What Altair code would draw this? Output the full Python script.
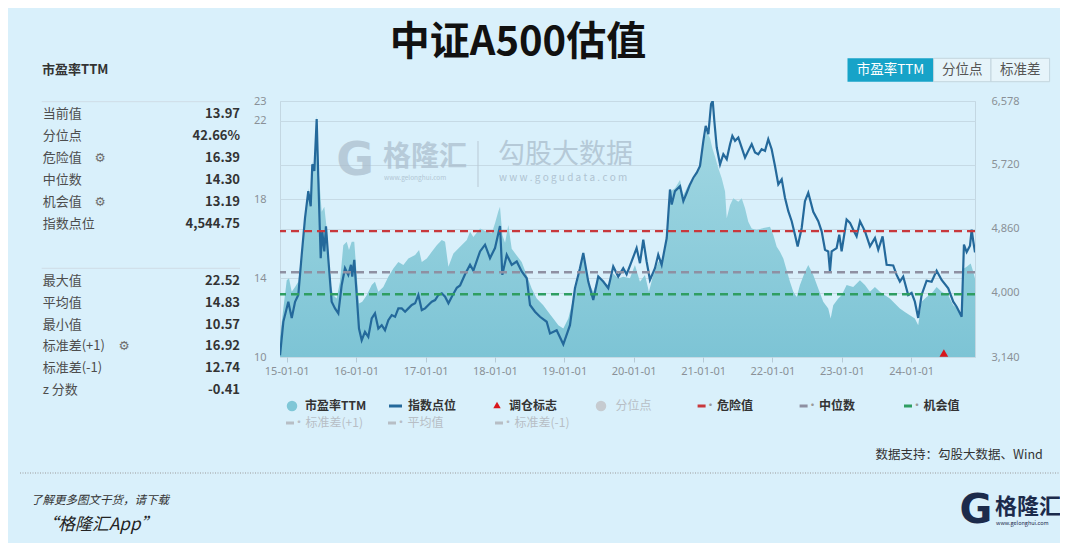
import altair as alt
import pandas as pd

# ---------------- data ----------------
# P/E TTM, decimal-year time stamps
pe_t = [2014.903, 2014.951, 2015.000, 2015.033, 2015.072, 2015.120, 2015.167, 2015.216, 2015.264, 2015.311,
        2015.346, 2015.369, 2015.398, 2015.432, 2015.465, 2015.504, 2015.542, 2015.576, 2015.599, 2015.624,
        2015.671, 2015.720, 2015.768, 2015.816, 2015.865, 2015.898, 2015.937, 2015.974, 2016.009, 2016.042,
        2016.089, 2016.153, 2016.225, 2016.272, 2016.320, 2016.392, 2016.464, 2016.536, 2016.608, 2016.680,
        2016.752, 2016.849, 2016.906, 2016.945, 2017.017, 2017.089, 2017.161, 2017.233, 2017.281, 2017.329,
        2017.401, 2017.497, 2017.594, 2017.641, 2017.689, 2017.785, 2017.882, 2017.954, 2018.001, 2018.049,
        2018.073, 2018.107, 2018.146, 2018.193, 2018.242, 2018.314, 2018.386, 2018.458, 2018.530, 2018.602,
        2018.697, 2018.769, 2018.841, 2018.914, 2018.986, 2019.058, 2019.130, 2019.202, 2019.274, 2019.346,
        2019.418, 2019.490, 2019.562, 2019.634, 2019.706, 2019.778, 2019.850, 2019.947, 2020.019, 2020.091,
        2020.163, 2020.220, 2020.282, 2020.354, 2020.427, 2020.476, 2020.523, 2020.595, 2020.667, 2020.715,
        2020.787, 2020.859, 2020.931, 2021.003, 2021.052, 2021.100, 2021.133, 2021.171, 2021.219, 2021.268,
        2021.316, 2021.340, 2021.388, 2021.435, 2021.507, 2021.556, 2021.604, 2021.651, 2021.700, 2021.772,
        2021.844, 2021.964, 2022.012, 2022.061, 2022.108, 2022.156, 2022.252, 2022.300, 2022.349, 2022.396,
        2022.468, 2022.516, 2022.588, 2022.660, 2022.732, 2022.804, 2022.839, 2022.876, 2022.948, 2022.997,
        2023.069, 2023.164, 2023.261, 2023.333, 2023.405, 2023.477, 2023.549, 2023.621, 2023.693, 2023.765,
        2023.837, 2023.909, 2023.981, 2024.053, 2024.101, 2024.150, 2024.222, 2024.294, 2024.366, 2024.438,
        2024.533, 2024.605, 2024.677, 2024.726, 2024.759, 2024.798, 2024.856, 2024.893, 2024.918]
pe_v = [11.0, 12.46, 13.9, 14.0, 13.31, 13.56, 13.82, 15.34, 17.2, 18.57,
        17.72, 19.92, 19.59, 22.3, 19.25, 17.38, 17.63, 16.53, 15.18, 13.82,
        13.14, 12.97, 13.82, 15.68, 15.85, 15.43, 15.85, 15.85, 14.16, 12.72,
        12.8, 13.14, 13.65, 13.82, 13.31, 13.56, 14.07, 14.5, 14.83, 14.67,
        15.0, 15.18, 15.43, 14.83, 15.0, 15.34, 15.68, 15.94, 15.85, 14.58,
        15.26, 15.6, 15.94, 16.36, 16.1, 16.53, 16.36, 16.28, 16.79, 17.4,
        17.63, 16.2, 15.8, 16.7, 15.5, 15.15, 14.83, 14.16, 13.48, 12.97,
        12.63, 12.29, 11.95, 11.61, 11.45, 11.95, 12.97, 13.99, 15.18, 13.82,
        13.31, 14.07, 13.82, 13.65, 14.24, 13.99, 14.07, 14.0, 14.67, 13.82,
        14.16, 13.31, 14.16, 14.83, 15.0, 16.19, 18.4, 18.57, 18.99, 18.23,
        18.74, 18.99, 19.5, 20.94, 21.45, 21.11, 20.6, 20.18, 19.59, 19.08,
        18.4, 17.04, 17.72, 18.06, 17.89, 18.06, 17.55, 16.87, 16.53, 16.45,
        16.53, 16.62, 16.19, 15.6, 15.34, 15.0, 13.82, 13.31, 13.05, 13.65,
        14.33, 14.67, 14.16, 13.48, 12.8, 12.46, 11.95, 12.63, 12.97, 13.14,
        13.65, 13.56, 13.9, 13.65, 13.31, 13.56, 13.31, 13.14, 12.97, 12.72,
        12.46, 12.29, 12.12, 11.95, 11.61, 12.8, 13.05, 13.22, 13.56, 13.31,
        13.14, 12.63, 12.46, 12.21, 14.5, 14.58, 14.75, 14.33, 13.97]

# index level
idx_t = [2014.903, 2014.951, 2015.023, 2015.072, 2015.120, 2015.167, 2015.216, 2015.264, 2015.311, 2015.346,
         2015.369, 2015.398, 2015.432, 2015.455, 2015.490, 2015.513, 2015.542, 2015.566, 2015.599, 2015.648,
         2015.696, 2015.744, 2015.793, 2015.840, 2015.888, 2015.927, 2015.945, 2015.974, 2016.009, 2016.042,
         2016.081, 2016.128, 2016.176, 2016.225, 2016.272, 2016.320, 2016.369, 2016.416, 2016.464, 2016.513,
         2016.561, 2016.608, 2016.657, 2016.705, 2016.752, 2016.801, 2016.849, 2016.896, 2016.945, 2016.993,
         2017.040, 2017.089, 2017.137, 2017.184, 2017.233, 2017.281, 2017.329, 2017.378, 2017.450, 2017.497,
         2017.569, 2017.641, 2017.689, 2017.785, 2017.857, 2017.929, 2018.001, 2018.073, 2018.107, 2018.170,
         2018.242, 2018.314, 2018.386, 2018.458, 2018.506, 2018.578, 2018.650, 2018.746, 2018.794, 2018.890,
         2018.986, 2019.082, 2019.154, 2019.226, 2019.274, 2019.346, 2019.418, 2019.490, 2019.562, 2019.634,
         2019.706, 2019.778, 2019.850, 2019.899, 2019.971, 2020.043, 2020.091, 2020.139, 2020.187, 2020.235,
         2020.307, 2020.354, 2020.403, 2020.476, 2020.523, 2020.548, 2020.595, 2020.667, 2020.715, 2020.764,
         2020.811, 2020.859, 2020.908, 2020.955, 2021.003, 2021.037, 2021.075, 2021.114, 2021.138, 2021.161,
         2021.196, 2021.244, 2021.291, 2021.340, 2021.388, 2021.421, 2021.460, 2021.507, 2021.556, 2021.604,
         2021.651, 2021.700, 2021.748, 2021.795, 2021.844, 2021.892, 2021.939, 2021.988, 2022.036, 2022.084,
         2022.133, 2022.180, 2022.228, 2022.277, 2022.324, 2022.363, 2022.421, 2022.468, 2022.516, 2022.588,
         2022.660, 2022.709, 2022.757, 2022.804, 2022.829, 2022.853, 2022.925, 2022.963, 2022.997, 2023.069,
         2023.118, 2023.175, 2023.213, 2023.262, 2023.334, 2023.406, 2023.478, 2023.525, 2023.588, 2023.646,
         2023.741, 2023.790, 2023.837, 2023.885, 2023.957, 2024.006, 2024.053, 2024.101, 2024.150, 2024.222,
         2024.294, 2024.366, 2024.438, 2024.533, 2024.605, 2024.654, 2024.726, 2024.759, 2024.798, 2024.846,
         2024.870, 2024.893, 2024.918]
idx_v = [3163, 3612, 3882, 3662, 3882, 3973, 4513, 5008, 5368, 5165,
         5728, 5638, 6335, 5548, 4468, 4828, 4558, 4895, 4468, 3882,
         3793, 3726, 4108, 4333, 4243, 4378, 4220, 4445, 3973, 3523,
         3365, 3478, 3410, 3658, 3726, 3523, 3568, 3500, 3635, 3703,
         3680, 3793, 3793, 3748, 3793, 3838, 3861, 3973, 3770, 3793,
         3838, 3882, 3905, 3973, 3996, 3950, 3861, 3950, 4070, 4100,
         4250, 4378, 4300, 4558, 4648, 4468, 4603, 4900, 4243, 4513,
         4378, 4423, 4288, 4198, 3838, 3748, 3680, 3613, 3456, 3500,
         3310, 3568, 4063, 4333, 4536, 4153, 3905, 4220, 4153, 4063,
         4355, 4220, 4333, 4250, 4423, 4603, 4400, 4715, 4423, 4175,
         4333, 4513, 4378, 4738, 5390, 5188, 5368, 5435, 5233, 5346,
         5458, 5548, 5616, 5705, 6043, 6245, 6133, 6538, 6578, 6313,
         5953, 5728, 5863, 5796, 5998, 6110, 6043, 6088, 5953, 5818,
         5908, 5998, 5886, 5863, 5931, 5908, 6065, 5931, 5705, 5458,
         5526, 5278, 5098, 4963, 4783, 4625, 4873, 5233, 5346, 5090,
         4963, 4828, 4580, 4558, 4288, 4558, 4603, 4783, 4560, 4986,
         4941, 4828, 4760, 4963, 4828, 4625, 4738, 4580, 4760, 4378,
         4370, 4243, 4153, 4220, 3973, 4000, 3883, 3665, 3973, 4165,
         4150, 4300, 4175, 4063, 3883, 3815, 3680, 4650, 4550, 4635,
         4850, 4693, 4545]

marker_t = [2024.47]                       # 调仓标志
ref_vals = [16.39, 14.30, 13.19]           # 危险值, 中位数, 机会值

left_ticks = [10, 14, 18, 22, 23]
right_ticks = [3140, 4000, 4860, 5720, 6578]
x_years = list(range(2015, 2025))

panel1_labels = ["当前值", "分位点", "危险值", "中位数", "机会值", "指数点位"]
panel1_values = ["13.97", "42.66%", "16.39", "14.30", "13.19", "4,544.75"]
panel2_labels = ["最大值", "平均值", "最小值", "标准差(+1)", "标准差(-1)", "z 分数"]
panel2_values = ["22.52", "14.83", "10.57", "16.92", "12.74", "-0.41"]

legend1 = ["市盈率TTM", "指数点位", "调仓标志", "分位点", "危险值", "中位数", "机会值"]
legend2 = ["标准差(+1)", "平均值", "标准差(-1)"]

assert len(pe_t) == len(pe_v) and len(idx_t) == len(idx_v)

# ---------------- styling ----------------
BG = "#d9f0fb"
FONT = "Noto Sans CJK SC"
LINE = "#24699b"
REF_COLORS = ["#c8383c", "#8e90a2", "#2f9e62"]
GRID = "#c6dae5"
AXLAB = "#8a9097"
INACTIVE = "#b7bec5"
WM = "#a9bccb"
NAVY = "#1c2b4b"

OX, OY = 280, 101          # page position of plot origin
W, H = 695, 256


def to_date(y):
    yi = int(y)
    a = pd.Timestamp(yi, 1, 1)
    b = pd.Timestamp(yi + 1, 1, 1)
    return a + (b - a) * (y - yi)


def dt(ts):
    return alt.DateTime(year=ts.year, month=ts.month, date=ts.day, hours=ts.hour)


xscale = alt.Scale(domain=[dt(to_date(pe_t[0])), dt(to_date(pe_t[-1]))])
yl = alt.Scale(domain=[10, 23], nice=False, zero=False)
yr = alt.Scale(domain=[3140, 6578], nice=False, zero=False)

pe_df = pd.DataFrame({"date": [to_date(t) for t in pe_t], "pe": pe_v})
idx_df = pd.DataFrame({"date": [to_date(t) for t in idx_t], "idx": idx_v})
mk_df = pd.DataFrame({"date": [to_date(t) for t in marker_t]})

PX = lambda v: v - OX
PY = lambda v: v - OY
XN = lambda f: alt.X(f, scale=None, axis=None)
YN = lambda f: alt.Y(f, scale=None, axis=None)


def texts(items, xs, ys, size, color, weight="normal", align="left", style="normal",
          font=FONT, opacity=1.0):
    df = pd.DataFrame({"t": items, "x": [PX(v) for v in xs], "y": [PY(v) for v in ys]})
    return alt.Chart(df).mark_text(align=align, baseline="middle", fontSize=size, color=color,
                                   fontWeight=weight, fontStyle=style, font=font,
                                   opacity=opacity).encode(x=XN("x:Q"), y=YN("y:Q"), text="t:N")


def rect(x1, x2, y1, y2, fill, stroke=None):
    df = pd.DataFrame({"x": [PX(x1)], "x2": [PX(x2)], "y": [PY(y1)], "y2": [PY(y2)]})
    kw = dict(fill=fill)
    if stroke:
        kw.update(stroke=stroke, strokeWidth=1)
    return alt.Chart(df).mark_rect(**kw).encode(x=XN("x:Q"), x2="x2:Q", y=YN("y:Q"), y2="y2:Q")


def hrule(x1, x2, y, color, width=1.0, dash=None):
    df = pd.DataFrame({"x": [PX(x1)], "x2": [PX(x2)], "y": [PY(y)]})
    kw = dict(color=color, strokeWidth=width)
    if dash:
        kw["strokeDash"] = dash
    return alt.Chart(df).mark_rule(**kw).encode(x=XN("x:Q"), x2="x2:Q", y=YN("y:Q"))


def vrule(x, y1, y2, color, width=1.0):
    df = pd.DataFrame({"x": [PX(x)], "y": [PY(y1)], "y2": [PY(y2)]})
    return alt.Chart(df).mark_rule(color=color, strokeWidth=width).encode(
        x=XN("x:Q"), y=YN("y:Q"), y2="y2:Q")


def point(x, y, shape, size, color):
    df = pd.DataFrame({"x": [PX(x)], "y": [PY(y)]})
    return alt.Chart(df).mark_point(shape=shape, size=size, filled=True, color=color,
                                    opacity=1).encode(x=XN("x:Q"), y=YN("y:Q"))


layers = []

# ---- watermark inside the plot ----
layers += [
    texts(["G"], [355], [161], 46, WM, weight="bold", align="center", font="DejaVu Sans", opacity=0.7),
    texts(["格隆汇"], [383], [158], 28, WM, weight="bold", opacity=0.7),
    texts(["www.gelonghui.com"], [384], [178], 6.5, WM, opacity=0.8),
    vrule(478, 141, 187, "#b9c9d5"),
    texts(["勾股大数据"], [498], [155], 27, WM, opacity=0.75),
    texts(["w w w . g o g u d a t a . c o m"], [499], [178], 10, WM, opacity=0.85),
]

# ---- data marks ----
area = alt.Chart(pe_df).mark_area(
    clip=True,
    color=alt.Gradient(gradient="linear",
                       stops=[alt.GradientStop(color="#a3d8e3", offset=0),
                              alt.GradientStop(color="#7dc4d5", offset=1)],
                       x1=1, x2=1, y1=0, y2=1),
).encode(
    x=alt.X("date:T", scale=xscale,
            axis=alt.Axis(values=[alt.DateTime(year=y, month=1, date=1) for y in x_years],
                          format="%y-%m-%d", title=None, grid=False, domain=False, ticks=True,
                          tickSize=5, tickColor="#b6cad6", labelPadding=3, orient="bottom")),
    y=alt.Y("pe:Q", scale=yl,
            axis=alt.Axis(values=left_ticks, title=None, orient="left", grid=True, gridColor=GRID,
                          domain=False, ticks=False, labelPadding=14)),
    y2=alt.Y2Datum(10),
)
layers.append(area)

line = alt.Chart(idx_df).mark_line(color=LINE, strokeWidth=2.2, clip=True).encode(
    x=alt.X("date:T", scale=xscale, axis=None),
    y=alt.Y("idx:Q", scale=yr,
            axis=alt.Axis(values=right_ticks, format=",.0f", title=None, orient="right", grid=True,
                          gridColor=GRID, domain=False, ticks=False, labelPadding=16)),
)
layers.append(line)

for v, c in zip(ref_vals, REF_COLORS):
    layers.append(
        alt.Chart(pd.DataFrame({"v": [v]})).mark_rule(color=c, strokeWidth=2.4, strokeDash=[8, 5]).encode(
            y=alt.Y("v:Q", scale=yl, axis=None)))

tri = alt.Chart(mk_df).mark_point(shape="triangle-up", filled=True, size=75, color="#d9161c",
                                  opacity=1, yOffset=-4).encode(
    x=alt.X("date:T", scale=xscale, axis=None),
    y=alt.YDatum(10, scale=yl, axis=None, type="quantitative"),
)
layers.append(tri)

# ---- title & header ----
layers += [
    texts(["中证A500估值"], [518], [43], 40, "#111111", weight="bold", align="center"),
    texts(["市盈率TTM"], [42], [70], 13, "#333333", weight="bold"),
    rect(847.5, 933.6, 58.3, 81.7, "#17a3c8"),
    rect(933.6, 991, 58.3, 81.7, "#e6f4fa", "#c3d5de"),
    rect(991, 1049.6, 58.3, 81.7, "#e6f4fa", "#c3d5de"),
    texts(["市盈率TTM"], [890.5], [70], 13.5, "#ffffff", align="center"),
    texts(["分位点", "标准差"], [962.3, 1020.3], [70, 70], 13.5, "#555555", align="center"),
]

# ---- stats panels ----
row = 21.9
p1_y = [114 + i * row for i in range(len(panel1_labels))]
p2_y = [280.7 + i * row for i in range(len(panel2_labels))]
layers += [
    hrule(41.7, 240, 101.7, "#cfdde6"),
    hrule(41.7, 240, 268.3, "#cfdde6"),
    texts(panel1_labels, [42.7] * len(p1_y), p1_y, 13, "#4d4d4d"),
    texts(panel1_values, [240] * len(p1_y), p1_y, 13, "#333333", weight="bold", align="right"),
    texts(panel2_labels, [42.7] * len(p2_y), p2_y, 13, "#4d4d4d"),
    texts(panel2_values, [240] * len(p2_y), p2_y, 13, "#333333", weight="bold", align="right"),
    texts(["⚙", "⚙", "⚙"], [100, 100, 124], [p1_y[2], p1_y[4], p2_y[3]], 12.5, "#707070",
          align="center", font="DejaVu Sans"),
]

# ---- legend ----
L1, L2 = 406, 423
layers += [
    point(292, L1, "circle", 110, "#7fc7d7"),
    texts([legend1[0]], [305], [L1], 12, "#333333", weight="bold"),
    hrule(389, 402, L1, LINE, 3),
    texts([legend1[1]], [408], [L1], 12, "#333333", weight="bold"),
    point(497, L1 - 1, "triangle-up", 55, "#d9161c"),
    texts([legend1[2]], [509], [L1], 12, "#333333", weight="bold"),
    point(601, L1, "circle", 110, "#c6cbd0"),
    texts([legend1[3]], [615.5], [L1], 12, INACTIVE),
]
for (d0, lbl), c in zip([(697.6, legend1[4]), (799.6, legend1[5]), (904, legend1[6])], REF_COLORS):
    layers += [
        hrule(d0, d0 + 8, L1, c, 3),
        texts(["·"], [d0 + 13], [L1], 12, "#999999", align="center"),
        texts([lbl], [d0 + 19.5], [L1], 12, "#333333", weight="bold"),
    ]
for d0, lbl in zip([286, 388, 495], legend2):
    layers += [
        hrule(d0, d0 + 8, L2, INACTIVE, 3),
        texts(["·"], [d0 + 13], [L2], 12, INACTIVE, align="center"),
        texts([lbl], [d0 + 19.5], [L2], 12, INACTIVE),
    ]

layers.append(texts(["数据支持：勾股大数据、Wind"], [875.5], [455], 12.5, "#333333"))

# ---- footer ----
layers += [
    hrule(20, 1060, 473, "#9a9a9a", 1, [1, 1.5]),
    texts(["了解更多图文干货，请下载"], [31], [501], 11.5, "#333333", style="italic"),
    texts(["“格隆汇App”"], [41], [525], 17, "#222222", style="italic"),
    texts(["G"], [976], [511], 40, NAVY, weight="bold", align="center", font="DejaVu Sans"),
    texts(["格隆汇"], [995], [507], 22, NAVY, weight="bold"),
    texts(["www.gelonghui.com"], [996], [523], 5.5, NAVY),
]

chart = alt.layer(*layers).resolve_scale(x="independent", y="independent").properties(
    width=W, height=H,
    padding={"left": OX - 8, "top": OY - 8, "right": 85, "bottom": 186},
    autosize=alt.AutoSizeParams(type="none"),
    background=BG,
).configure_view(
    stroke="#c3d7e2", strokeWidth=1
).configure_axis(
    labelFont="Noto Sans", labelFontSize=11, labelColor=AXLAB
)

chart.save("out.html", embed_options={"renderer": "svg", "actions": False})
